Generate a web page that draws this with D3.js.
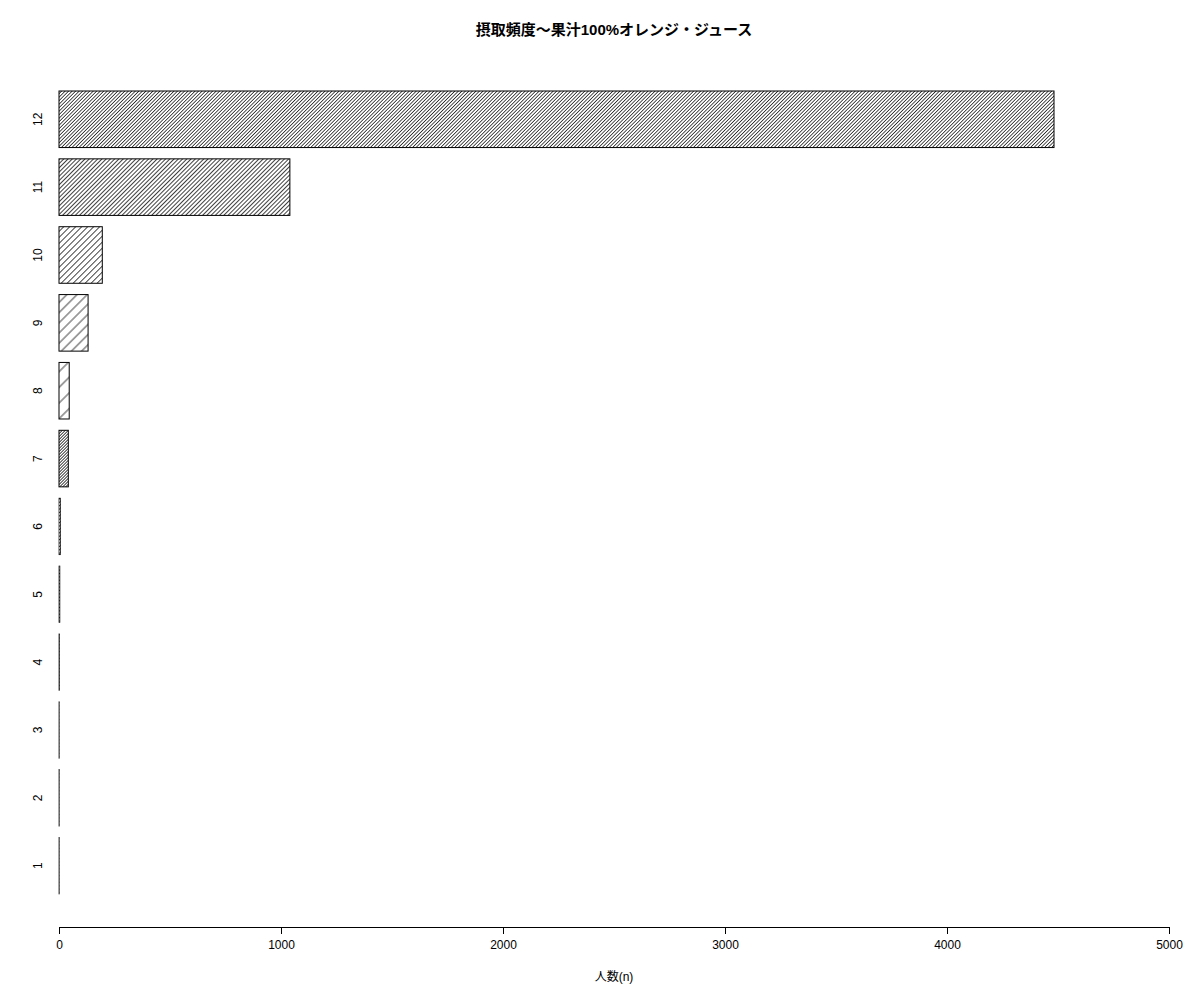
<!DOCTYPE html>
<html>
<head>
<meta charset="utf-8">
<script src="https://cdn.jsdelivr.net/npm/d3@7"></script>
<style>
  body { margin: 0; background: #fff; }
  text { font-family: "Liberation Sans", Arial, "Noto Sans CJK JP", sans-serif; }
</style>
</head>
<body>
<div id="chart"></div>
<script>
// data
var categories = ["1", "2", "3", "4", "5", "6", "7", "8", "9", "10", "11", "12"];
var counts = [1, 1, 1, 2, 4, 7, 42, 46, 131, 195, 1040, 4482];
var xTicks = [0, 1000, 2000, 3000, 4000, 5000];
var titleText = "摂取頻度〜果汁100%オレンジ・ジュース";
var xLabel = "人数(n)";

// hatch density per bar (lines per inch, 72 dpi)
var hatchDensity = [30, 30, 30, 30, 30, 30, 34, 6.5, 10, 17, 24, 29];

var width = 1200, height = 1000;
var margin = { top: 91, right: 31, bottom: 106, left: 59 };

var svg = d3.select("#chart")
    .append("svg")
    .attr("width", width)
    .attr("height", height);

var defs = svg.append("defs");

var x = d3.scaleLinear()
    .domain([0, 5000])
    .range([margin.left, width - margin.right]);

var y = d3.scaleBand()
    .domain(categories.slice().reverse())
    .range([margin.top, height - margin.bottom])
    .paddingInner(1 / 6)
    .paddingOuter(0);

// hatch patterns
categories.forEach(function (c, i) {
    var s = 72 / hatchDensity[i];
    var p = defs.append("pattern")
        .attr("id", "hatch-" + i)
        .attr("patternUnits", "userSpaceOnUse")
        .attr("width", s)
        .attr("height", 10)
        .attr("patternTransform", "rotate(45)");
    p.append("line")
        .attr("x1", s / 2).attr("x2", s / 2)
        .attr("y1", 0).attr("y2", 10)
        .attr("stroke", "#000")
        .attr("stroke-width", 0.75);
});

var data = categories.map(function (c, i) {
    return { name: c, value: counts[i], idx: i };
});

// bars
var bars = svg.append("g").attr("class", "bars");
bars.selectAll("rect")
    .data(data)
    .enter()
    .append("rect")
    .attr("x", x(0))
    .attr("y", function (d) { return y(d.name); })
    .attr("width", function (d) { return x(d.value) - x(0); })
    .attr("height", y.bandwidth())
    .attr("fill", function (d) { return "url(#hatch-" + d.idx + ")"; })
    .attr("stroke", "#000")
    .attr("stroke-width", function (d) { return x(d.value) - x(0) < 3 ? 0.7 : 1; });

// y labels (rotated, R style)
svg.append("g").selectAll("text")
    .data(data)
    .enter()
    .append("text")
    .attr("transform", function (d) {
        return "translate(" + 42 + "," + (y(d.name) + y.bandwidth() / 2) + ") rotate(-90)";
    })
    .attr("text-anchor", "middle")
    .attr("font-size", 12)
    .text(function (d) { return d.name; });

// x axis
var xAxis = svg.append("g")
    .attr("transform", "translate(0," + 927 + ")")
    .call(d3.axisBottom(x)
        .tickValues(xTicks)
        .tickSize(7)
        .tickSizeOuter(0)
        .tickPadding(6)
        .tickFormat(d3.format("d")));
xAxis.selectAll("text")
    .attr("font-size", 12)
    .attr("font-family", "Liberation Sans, Arial, sans-serif")
    .attr("fill", "#000");
xAxis.selectAll("path, line").attr("stroke", "#000");

// axis title
svg.append("text")
    .attr("x", (x(0) + x(5000)) / 2)
    .attr("y", 981)
    .attr("text-anchor", "middle")
    .attr("font-size", 12)
    .text(xLabel);

// main title
svg.append("text")
    .attr("x", (x(0) + x(5000)) / 2)
    .attr("y", 35)
    .attr("text-anchor", "middle")
    .attr("font-size", 15)
    .attr("font-weight", "bold")
    .text(titleText);
</script>
</body>
</html>
